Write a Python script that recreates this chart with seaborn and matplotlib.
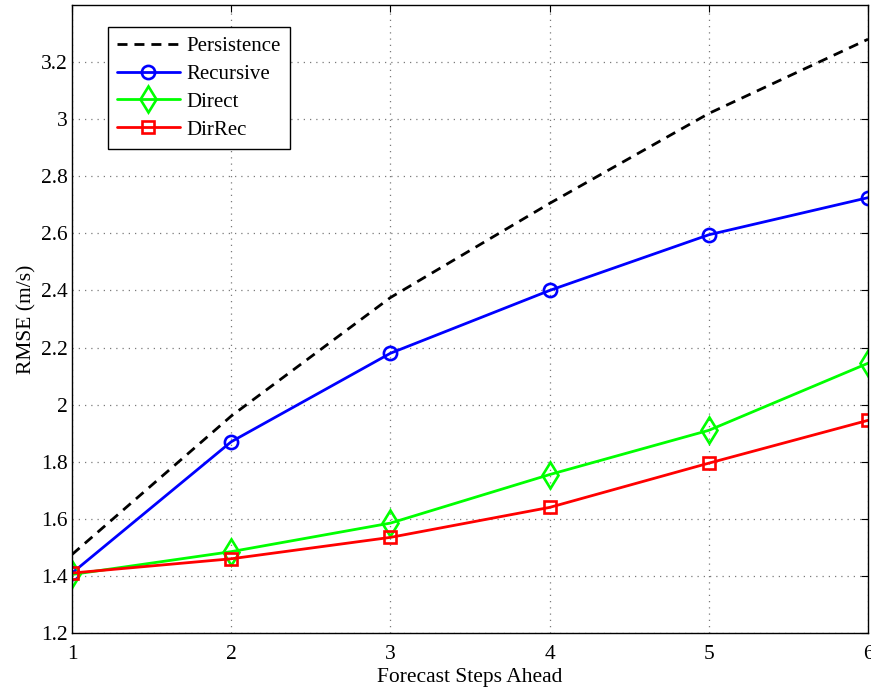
import numpy as np
import pandas as pd
import seaborn as sns
import matplotlib
matplotlib.use("Agg")
import matplotlib.pyplot as plt

# Forecast horizons and RMSE per method
steps = [1, 2, 3, 4, 5, 6]
persistence = [1.475, 1.96, 2.375, 2.705, 3.02, 3.28]
recursive = [1.41, 1.87, 2.18, 2.40, 2.595, 2.725]
direct = [1.405, 1.485, 1.585, 1.755, 1.91, 2.145]
dirrec = [1.41, 1.46, 1.535, 1.64, 1.795, 1.945]

x_ticks = [1, 2, 3, 4, 5, 6]
y_ticks = [1.2, 1.4, 1.6, 1.8, 2.0, 2.2, 2.4, 2.6, 2.8, 3.0, 3.2]
y_tick_labels = ["1.2", "1.4", "1.6", "1.8", "2", "2.2", "2.4", "2.6", "2.8", "3", "3.2"]

sns.set_theme(style="white")
plt.rcParams["font.family"] = ["Liberation Serif", "DejaVu Serif"]
plt.rcParams["text.color"] = "black"
plt.rcParams["axes.labelcolor"] = "black"
plt.rcParams["xtick.color"] = "black"
plt.rcParams["ytick.color"] = "black"

fig = plt.figure(figsize=(8.71, 6.90), dpi=100)
ax = fig.add_axes([0.0827, 0.0826, 0.9139, 0.9102])

series = [
    ("Persistence", persistence, "black", None, "--", 0),
    ("Recursive", recursive, "#0000ff", "o", "-", 9.5),
    ("Direct", direct, "#00ff00", "d", "-", 13),
    ("DirRec", dirrec, "#ff0000", "s", "-", 9),
]

for name, vals, color, marker, ls, msize in series:
    df = pd.DataFrame({"step": steps, "rmse": vals})
    kws = dict(color=color, linewidth=2.0, linestyle=ls, label=name, ax=ax)
    if marker is not None:
        kws.update(marker=marker, markersize=msize,
                   markerfacecolor="none", markeredgecolor=color,
                   markeredgewidth=1.9)
    line = sns.lineplot(data=df, x="step", y="rmse", **kws).lines[-1]
    if ls == "--":
        line.set_dashes([3.6, 2.5])

ax.set_xlim(1, 6)
ax.set_ylim(1.2, 3.4)
ax.set_xticks(x_ticks)
ax.set_yticks(y_ticks)
ax.set_yticklabels(y_tick_labels)
ax.set_xlabel("Forecast Steps Ahead", fontsize=15.5, labelpad=3)
ax.set_ylabel("RMSE (m/s)", fontsize=15.5, labelpad=3)

ax.grid(True, linestyle=(0, (1, 4)), color="#7a7a7a", linewidth=0.9)
ax.tick_params(axis="both", which="major", direction="in", length=5,
               width=0.8, top=True, right=True, labelsize=15.5,
               color="black", labelcolor="black")
ax.tick_params(axis="x", pad=8.5)
ax.tick_params(axis="y", pad=3)
for sp in ax.spines.values():
    sp.set_visible(True)
    sp.set_color("black")
    sp.set_linewidth(1.0)

leg = ax.legend(loc="upper left", bbox_to_anchor=(0.045, 0.965), fontsize=15,
                handlelength=3.0, handletextpad=0.3, borderpad=0.45,
                labelspacing=0.4, fancybox=False, framealpha=1,
                edgecolor="black", borderaxespad=0)
leg.get_frame().set_linewidth(1.0)
for t in leg.get_texts():
    t.set_color("black")

fig.savefig("out.png", dpi=100)
